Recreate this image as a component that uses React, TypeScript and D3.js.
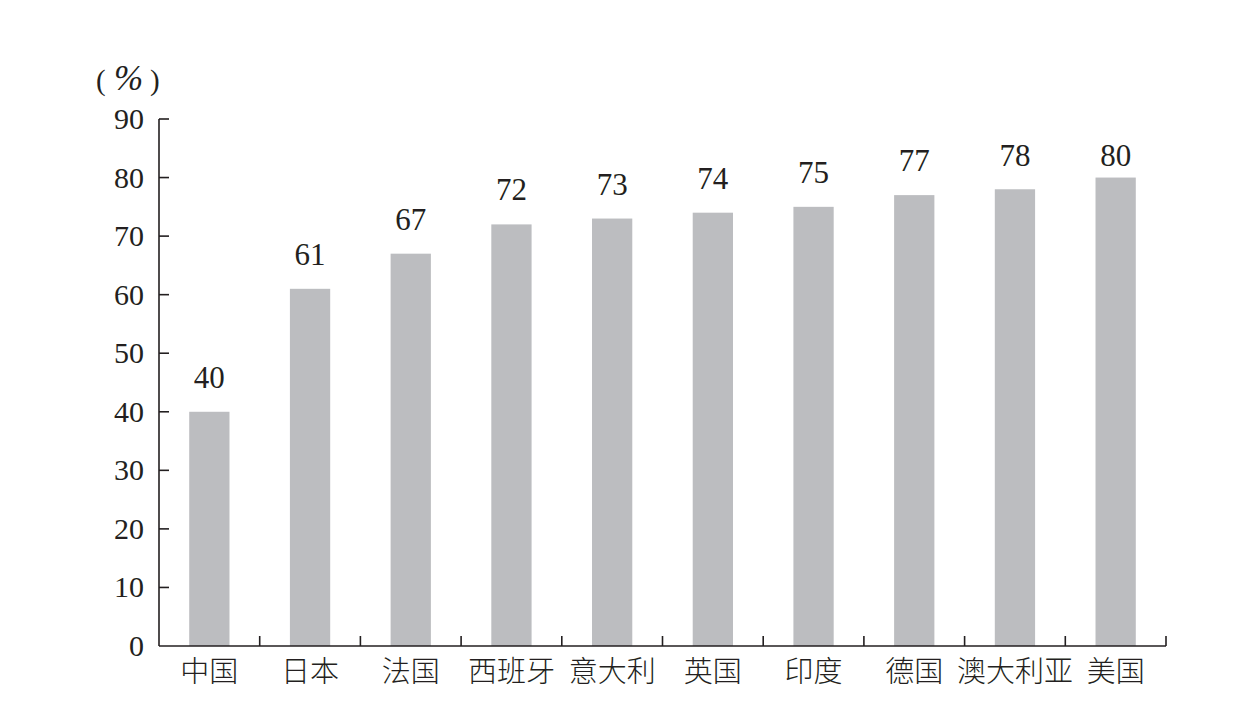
import React, { useEffect, useRef } from "react";
import * as d3 from "d3";

const categories = ["中国", "日本", "法国", "西班牙", "意大利", "英国", "印度", "德国", "澳大利亚", "美国"];
const values = [40, 61, 67, 72, 73, 74, 75, 77, 78, 80];
const yTicks = [0, 10, 20, 30, 40, 50, 60, 70, 80, 90];

const App: React.FC = () => {
    const ref = useRef<SVGSVGElement>(null);

    useEffect(() => {
        const svg = d3.select(ref.current);
        svg.selectAll("*").remove();

        const width = 1234;
        const height = 728;
        const left = 159;
        const right = 1166;
        const top = 119;
        const bottom = 646;
        const serif = "'Liberation Serif', 'Times New Roman', serif";
        const cjk = "'Noto Sans CJK SC', sans-serif";
        const ink = "#231f20";

        svg.attr("width", width).attr("height", height);

        const x = d3.scaleBand<string>().domain(categories).range([left, right]).paddingInner(0.6).paddingOuter(0.3);
        const xEdge = d3.scaleLinear().domain([0, categories.length]).range([left, right]);
        const y = d3.scaleLinear().domain([0, 90]).range([bottom, top]);

        // bars
        svg.append("g")
            .selectAll("rect")
            .data(values)
            .enter()
            .append("rect")
            .attr("x", (d, i) => x(categories[i])!)
            .attr("y", d => y(d))
            .attr("width", x.bandwidth())
            .attr("height", d => y(0) - y(d))
            .attr("fill", "#bcbdc0");

        // value labels (kept below the top tick)
        svg.append("g")
            .selectAll("text")
            .data(values)
            .enter()
            .append("text")
            .attr("x", (d, i) => x(categories[i])! + x.bandwidth() / 2)
            .attr("y", d => Math.max(y(d) - 24, y(90) + 47))
            .attr("text-anchor", "middle")
            .attr("font-family", serif)
            .attr("font-size", 31)
            .attr("fill", ink)
            .text(d => d);

        // y axis
        const ay = svg.append("g").attr("stroke", ink).attr("stroke-width", 1.6);
        ay.append("line").attr("x1", left).attr("x2", left).attr("y1", top).attr("y2", bottom);
        ay.selectAll("line.tick")
            .data(yTicks.filter(t => t > 0))
            .enter()
            .append("line")
            .attr("class", "tick")
            .attr("x1", left)
            .attr("x2", left + 10)
            .attr("y1", d => y(d))
            .attr("y2", d => y(d));

        svg.append("g")
            .selectAll("text")
            .data(yTicks)
            .enter()
            .append("text")
            .attr("x", left - 15)
            .attr("y", d => y(d) + 10)
            .attr("text-anchor", "end")
            .attr("font-family", serif)
            .attr("font-size", 30)
            .attr("fill", ink)
            .text(d => d);

        // x axis
        const ax = svg.append("g").attr("stroke", ink).attr("stroke-width", 1.6);
        ax.append("line").attr("x1", left).attr("x2", right).attr("y1", bottom).attr("y2", bottom);
        ax.selectAll("line.tick")
            .data(d3.range(1, categories.length + 1))
            .enter()
            .append("line")
            .attr("class", "tick")
            .attr("x1", d => xEdge(d))
            .attr("x2", d => xEdge(d))
            .attr("y1", bottom)
            .attr("y2", bottom - 10);

        svg.append("g")
            .selectAll("text")
            .data(categories)
            .enter()
            .append("text")
            .attr("x", d => x(d)! + x.bandwidth() / 2)
            .attr("y", bottom + 36)
            .attr("text-anchor", "middle")
            .attr("font-family", cjk)
            .attr("font-weight", 300)
            .attr("font-size", 29)
            .attr("fill", ink)
            .text(d => d);

        // unit
        const unit = svg.append("text")
            .attr("y", 90)
            .attr("font-family", serif)
            .attr("font-size", 29)
            .attr("fill", ink);
        unit.append("tspan").attr("x", 96).text("(");
        unit.append("tspan").attr("x", 114).attr("font-style", "italic").attr("font-size", 35).text("%");
        unit.append("tspan").attr("x", 150).text(")");
    }, []);

    return <svg ref={ref} style={{ display: "block", marginLeft: -8, marginTop: -8 }} />;
};

export default App;
